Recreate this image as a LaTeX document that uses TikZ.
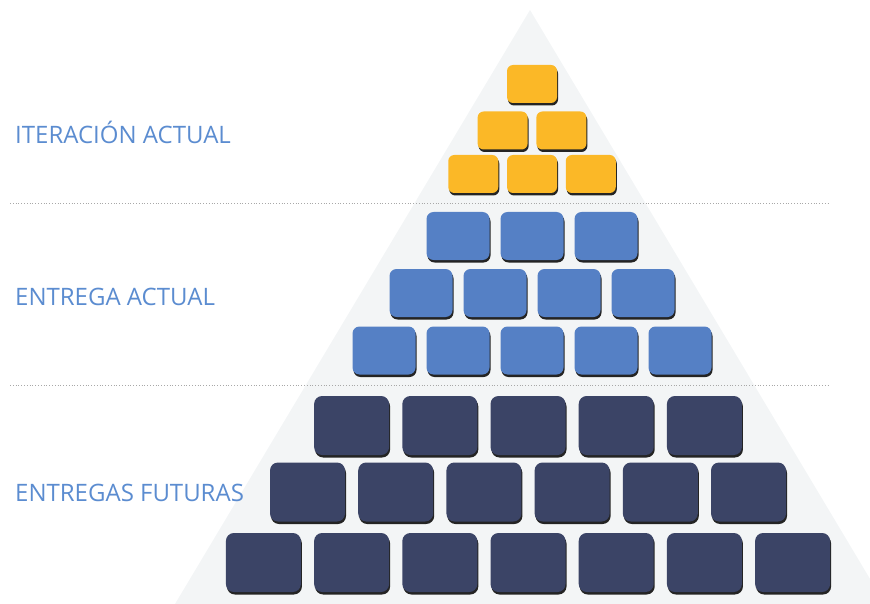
\documentclass[tikz,border=0pt]{standalone}
\usepackage{fontspec}
\setmainfont{Open Sans}
\usetikzlibrary{shadows}

\definecolor{pyrbg}{HTML}{F3F5F6}
\definecolor{itercol}{HTML}{FBB827}
\definecolor{relcol}{HTML}{5580C5}
\definecolor{futcol}{HTML}{3B4466}
\definecolor{labelcol}{HTML}{5B8CD0}
\definecolor{sepcol}{HTML}{A8A8A8}

\tikzset{
    block/.style={rectangle, inner sep=0pt, draw=none,
        drop shadow={shadow xshift=1pt, shadow yshift=-2.5pt, opacity=0.85, fill=black}},
    iterblock/.style={block, fill=itercol, minimum width=50pt, minimum height=38pt, rounded corners=6pt},
    relblock/.style={block, fill=relcol, minimum width=63pt, minimum height=48pt, rounded corners=7pt},
    futblock/.style={block, fill=futcol, minimum width=75pt, minimum height=59pt, rounded corners=8pt},
    layer/.style={anchor=base west, inner sep=0pt, text=labelcol, font=\fontsize{24}{27}\selectfont},
    sep/.style={draw=sepcol, line width=0.8pt, dotted}
}

\begin{document}
\begin{tikzpicture}[x=1pt, y=-1pt]
        \useasboundingbox (0,0) rectangle (870,604);

        % background pyramid
        \coordinate (top) at (530,10);
        \coordinate (bl) at (175,604);
        \coordinate (br) at (885,604);
        \fill[pyrbg] (top) -- (bl) -- (br) -- cycle;

        % separators
        \coordinate (s1a) at (10,203);
        \coordinate (s1b) at (828,203);
        \coordinate (s2a) at (10,385);
        \coordinate (s2b) at (828,385);
        \draw[sep] (s1a) -- (s1b);
        \draw[sep] (s2a) -- (s2b);

        % labels
        \node[layer] (lit) at (15,144) {ITERACIÓN ACTUAL};
        \node[layer] (lrel) at (15,305) {ENTREGA ACTUAL};
        \node[layer] (lfut) at (15,501) {ENTREGAS FUTURAS};

        % current iteration
        \foreach \r/\y in {1/84, 2/130.5, 3/174} {
            \foreach \i in {1,...,\r} {
                \node[iterblock] (it-\r-\i) at ({532 + 58.75*(\i - (\r+1)/2)}, \y) {};
            }
        }

        % current release
        \foreach \r/\y in {3/236, 4/293, 5/350.5} {
            \foreach \i in {1,...,\r} {
                \node[relblock] (rel-\r-\i) at ({532 + 74*(\i - (\r+1)/2)}, \y) {};
            }
        }

        % future releases
        \foreach \r/\y in {5/425.5, 6/492, 7/562.5} {
            \foreach \i in {1,...,\r} {
                \node[futblock] (fut-\r-\i) at ({528 + 88.2*(\i - (\r+1)/2)}, \y) {};
            }
        }
    \end{tikzpicture}
\end{document}
